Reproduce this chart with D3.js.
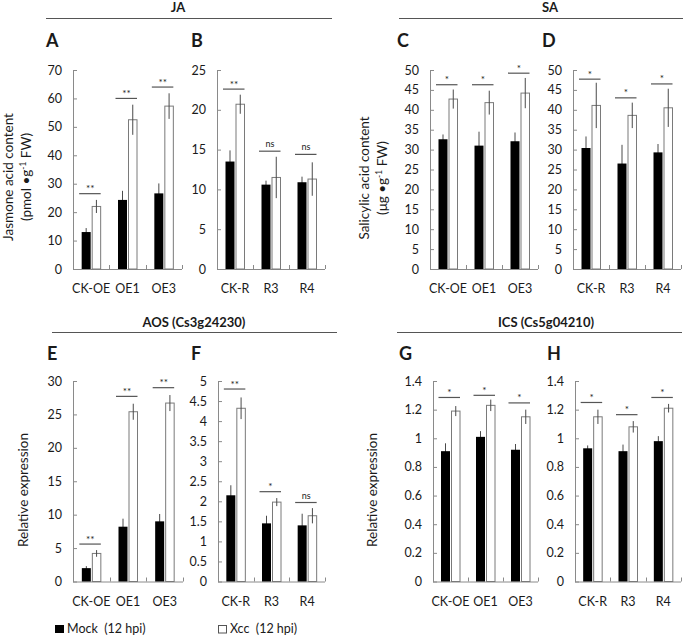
<!DOCTYPE html>
<html>
<head>
<meta charset="utf-8">
<script src="https://cdn.jsdelivr.net/npm/d3@7"></script>
<style>
  html, body { margin: 0; padding: 0; background: #fff; }
  svg { display: block; }
  text { font-family: Lato, "Open Sans", sans-serif; fill: #1a1a1a; white-space: pre; }
</style>
</head>
<body>
<svg id="chart" width="685" height="636"></svg>
<script>
// ---------------- DATA ----------------
const groupsOE = ["CK-OE", "OE1", "OE3"];
const groupsR  = ["CK-R", "R3", "R4"];

// JA (pmol g-1 FW)
const jaOEMock = [13.0, 24.3, 26.6];  const jaOEMockErr = [1.4, 3.2, 3.5];
const jaOEXcc  = [22.0, 52.5, 57.3];  const jaOEXccErr  = [2.3, 5.3, 4.5];
const jaOESig  = ["**", "**", "**"];  const jaOESigY    = [26.5, 60, 64];
const jaRMock  = [13.5, 10.6, 10.9];  const jaRMockErr  = [1.4, 0.5, 0.7];
const jaRXcc   = [20.7, 11.5, 11.3];  const jaRXccErr   = [1.2, 2.6, 2.1];
const jaRSig   = ["**", "ns", "ns"];  const jaRSigY     = [22.6, 14.8, 14.4];

// SA (ug g-1 FW)
const saOEMock = [32.6, 31.0, 32.1];  const saOEMockErr = [1.2, 3.5, 2.2];
const saOEXcc  = [42.7, 41.8, 44.2];  const saOEXccErr  = [2.4, 3.0, 3.8];
const saOESig  = ["*", "*", "*"];     const saOESigY    = [46.3, 46.3, 49.2];
const saRMock  = [30.4, 26.5, 29.3];  const saRMockErr  = [2.9, 4.7, 2.1];
const saRXcc   = [41.1, 38.6, 40.5];  const saRXccErr   = [5.7, 3.2, 4.8];
const saRSig   = ["*", "*", "*"];     const saRSigY     = [47.7, 43.0, 46.5];

// AOS relative expression
const aosOEMock = [2.0, 8.2, 9.0];    const aosOEMockErr = [0.3, 1.2, 1.1];
const aosOEXcc  = [4.2, 25.4, 26.7];  const aosOEXccErr  = [0.5, 1.2, 1.2];
const aosOESig  = ["**", "**", "**"]; const aosOESigY    = [5.6, 27.7, 29.0];
const aosRMock  = [2.15, 1.45, 1.40]; const aosRMockErr  = [0.25, 0.19, 0.29];
const aosRXcc   = [4.32, 1.98, 1.64]; const aosRXccErr   = [0.27, 0.10, 0.19];
const aosRSig   = ["**", "*", "ns"];  const aosRSigY     = [4.8, 2.24, 1.97];

// ICS relative expression
const icsOEMock = [0.91, 1.01, 0.92]; const icsOEMockErr = [0.055, 0.04, 0.04];
const icsOEXcc  = [1.19, 1.23, 1.15]; const icsOEXccErr  = [0.035, 0.04, 0.05];
const icsOESig  = ["*", "*", "*"];    const icsOESigY    = [1.285, 1.30, 1.247];
const icsRMock  = [0.93, 0.91, 0.98]; const icsRMockErr  = [0.02, 0.046, 0.035];
const icsRXcc   = [1.15, 1.08, 1.21]; const icsRXccErr   = [0.05, 0.04, 0.03];
const icsRSig   = ["*", "*", "*"];    const icsRSigY     = [1.25, 1.165, 1.285];

// tick values
const ticksJAOE = [0, 10, 20, 30, 40, 50, 60, 70];
const ticksJAR  = [0, 5, 10, 15, 20, 25];
const ticksSA   = [0, 5, 10, 15, 20, 25, 30, 35, 40, 45, 50];
const ticksAOSOE = [0, 5, 10, 15, 20, 25, 30];
const ticksAOSR  = [0, 0.5, 1, 1.5, 2, 2.5, 3, 3.5, 4, 4.5, 5];
const ticksICS   = [0, 0.2, 0.4, 0.6, 0.8, 1, 1.2, 1.4];

const legendLabels = ["Mock  (12 hpi)", "Xcc  (12 hpi)"];

// ---------------- DRAW ----------------
const svg = d3.select("#chart");
const AXIS = "#8a8a8a", ERR = "#4a4a4a", SIG = "#555";

function panel(o) {
  const g = svg.append("g");
  const x = d3.scaleBand().domain(o.cats).range([o.x0, o.x1]);
  const y = d3.scaleLinear().domain([0, d3.max(o.ticks)]).range([o.yb, o.yt]);
  const ctr = c => x(c) + x.bandwidth() / 2;

  // y axis
  const ya = g.append("g").attr("transform", `translate(${o.x0},0)`)
    .call(d3.axisLeft(y).tickValues(o.ticks).tickSizeInner(-4).tickSizeOuter(0)
      .tickPadding(11).tickFormat(d3.format("~g")));
  ya.selectAll("path, line").attr("stroke", AXIS);
  ya.selectAll("text").attr("font-size", 12.5).attr("font-family", "Lato, sans-serif").attr("fill", "#1a1a1a");

  // x axis
  g.append("line").attr("x1", o.x0).attr("x2", o.x1).attr("y1", o.yb + 0.5).attr("y2", o.yb + 0.5)
    .attr("stroke", AXIS);
  g.selectAll(".xt").data(d3.range(1, o.cats.length + 1)).join("line")
    .attr("x1", i => Math.round(o.x0 + i * x.step()) + 0.5)
    .attr("x2", i => Math.round(o.x0 + i * x.step()) + 0.5)
    .attr("y1", o.yb).attr("y2", o.yb - 4).attr("stroke", AXIS);
  g.selectAll(".xl").data(o.cats).join("text")
    .attr("x", c => ctr(c)).attr("y", o.yb + 24).attr("text-anchor", "middle")
    .attr("font-size", 12.5).text(c => c);

  const rows = o.cats.map((c, i) => ({ c, i }));
  // mock error bars (drawn under bars)
  g.selectAll(".em").data(rows).join("line")
    .attr("x1", d => ctr(d.c) - 5).attr("x2", d => ctr(d.c) - 5)
    .attr("y1", d => y(o.mock[d.i] + o.mockErr[d.i])).attr("y2", d => y(o.mock[d.i] - o.mockErr[d.i]))
    .attr("stroke", ERR);
  // mock bars
  g.selectAll(".bm").data(rows).join("rect")
    .attr("x", d => ctr(d.c) - 9.5).attr("width", 9)
    .attr("y", d => y(o.mock[d.i])).attr("height", d => o.yb - y(o.mock[d.i]))
    .attr("fill", "#000");
  // xcc bars
  g.selectAll(".bx").data(rows).join("rect")
    .attr("x", d => ctr(d.c) + 1).attr("width", 8.5)
    .attr("y", d => y(o.xcc[d.i])).attr("height", d => o.yb - y(o.xcc[d.i]))
    .attr("fill", "#fff").attr("stroke", "#7a7a7a").attr("stroke-width", 1);
  // xcc error bars
  g.selectAll(".ex").data(rows).join("line")
    .attr("x1", d => ctr(d.c) + 5.25).attr("x2", d => ctr(d.c) + 5.25)
    .attr("y1", d => y(o.xcc[d.i] + o.xccErr[d.i])).attr("y2", d => y(o.xcc[d.i] - o.xccErr[d.i]))
    .attr("stroke", ERR);
  // significance
  g.selectAll(".sl").data(rows).join("line")
    .attr("x1", d => ctr(d.c) - 12).attr("x2", d => ctr(d.c) + 9.5)
    .attr("y1", d => y(o.sigY[d.i])).attr("y2", d => y(o.sigY[d.i]))
    .attr("stroke", SIG).attr("stroke-width", 1.2);
  g.selectAll(".st").data(rows).join("text")
    .attr("x", d => ctr(d.c) - 1).attr("y", d => y(o.sigY[d.i]) - (o.sig[d.i] === "ns" ? 4 : 1.5))
    .attr("text-anchor", "middle").attr("font-size", d => o.sig[d.i] === "ns" ? 9 : 10)
    .attr("fill", "#333").text(d => o.sig[d.i]);

  // panel letter
  svg.append("text").attr("x", o.lx).attr("y", o.ly).attr("font-size", 18).attr("font-weight", "bold")
    .attr("font-family", "Lato, sans-serif").text(o.letter);
}

const TOP = { yb: 269, yt: 70, ly: 47 };
const BOT = { yb: 581.5, yt: 381, ly: 360 };

panel({ ...TOP, x0: 73, x1: 182, cats: groupsOE, ticks: ticksJAOE, mock: jaOEMock, mockErr: jaOEMockErr,
  xcc: jaOEXcc, xccErr: jaOEXccErr, sig: jaOESig, sigY: jaOESigY, letter: "A", lx: 46 });
panel({ ...TOP, x0: 217, x1: 325, cats: groupsR, ticks: ticksJAR, mock: jaRMock, mockErr: jaRMockErr,
  xcc: jaRXcc, xccErr: jaRXccErr, sig: jaRSig, sigY: jaRSigY, letter: "B", lx: 191 });
panel({ ...TOP, x0: 430, x1: 538, cats: groupsOE, ticks: ticksSA, mock: saOEMock, mockErr: saOEMockErr,
  xcc: saOEXcc, xccErr: saOEXccErr, sig: saOESig, sigY: saOESigY, letter: "C", lx: 397 });
panel({ ...TOP, x0: 573, x1: 681, cats: groupsR, ticks: ticksSA, mock: saRMock, mockErr: saRMockErr,
  xcc: saRXcc, xccErr: saRXccErr, sig: saRSig, sigY: saRSigY, letter: "D", lx: 542 });
panel({ ...BOT, x0: 73, x1: 183, cats: groupsOE, ticks: ticksAOSOE, mock: aosOEMock, mockErr: aosOEMockErr,
  xcc: aosOEXcc, xccErr: aosOEXccErr, sig: aosOESig, sigY: aosOESigY, letter: "E", lx: 47 });
panel({ ...BOT, x0: 218, x1: 325, cats: groupsR, ticks: ticksAOSR, mock: aosRMock, mockErr: aosRMockErr,
  xcc: aosRXcc, xccErr: aosRXccErr, sig: aosRSig, sigY: aosRSigY, letter: "F", lx: 191 });
panel({ ...BOT, x0: 433, x1: 538, cats: groupsOE, ticks: ticksICS, mock: icsOEMock, mockErr: icsOEMockErr,
  xcc: icsOEXcc, xccErr: icsOEXccErr, sig: icsOESig, sigY: icsOESigY, letter: "G", lx: 399 });
panel({ ...BOT, x0: 575, x1: 681, cats: groupsR, ticks: ticksICS, mock: icsRMock, mockErr: icsRMockErr,
  xcc: icsRXcc, xccErr: icsRXccErr, sig: icsRSig, sigY: icsRSigY, letter: "H", lx: 547 });

// section headers
function header(text, cx, ty, lx1, lx2, ly) {
  svg.append("text").attr("x", cx).attr("y", ty).attr("text-anchor", "middle")
    .attr("font-size", 13).attr("font-weight", "bold").text(text);
  svg.append("line").attr("x1", lx1).attr("x2", lx2).attr("y1", ly).attr("y2", ly)
    .attr("stroke", "#555").attr("stroke-width", 1.2);
}
header("JA", 178, 12, 46, 332, 18.5);
header("SA", 550, 12, 399, 683, 18.5);
header("AOS (Cs3g24230)", 194, 327, 52, 337, 332.5);
header("ICS (Cs5g04210)", 546, 327, 397, 682, 332.5);

// y-axis titles
function ytitle(lines, cx, cy) {
  const t = svg.append("text").attr("transform", `translate(${cx},${cy}) rotate(-90)`)
    .attr("text-anchor", "middle").attr("font-size", 13.5);
  lines.forEach((ln, i) => {
    const ts = t.append("tspan").attr("x", 0).attr("dy", i === 0 ? 0 : 18);
    ln.forEach(part => {
      const s = ts.append("tspan").text(part.t);
      if (part.sup) s.attr("font-size", 8.5).attr("baseline-shift", "super");
    });
  });
}
ytitle([[{ t: "Jasmone acid content" }], [{ t: "(pmol •g" }, { t: "-1", sup: true }, { t: " FW)" }]], 13, 177);
ytitle([[{ t: "Salicylic acid content" }], [{ t: "(μg •g" }, { t: "-1", sup: true }, { t: " FW)" }]], 369, 178);
ytitle([[{ t: "Relative expression" }]], 28, 490);
ytitle([[{ t: "Relative expression" }]], 377, 490);

// legend
const leg = svg.append("g");
leg.append("rect").attr("x", 55).attr("y", 625).attr("width", 9).attr("height", 8).attr("fill", "#000");
leg.append("text").attr("x", 67).attr("y", 633).attr("font-size", 12.5).text(legendLabels[0]);
leg.append("rect").attr("x", 218.5).attr("y", 625.5).attr("width", 8).attr("height", 7.5)
  .attr("fill", "#fff").attr("stroke", "#555");
leg.append("text").attr("x", 230).attr("y", 633).attr("font-size", 12.5).text(legendLabels[1]);
</script>
</body>
</html>
